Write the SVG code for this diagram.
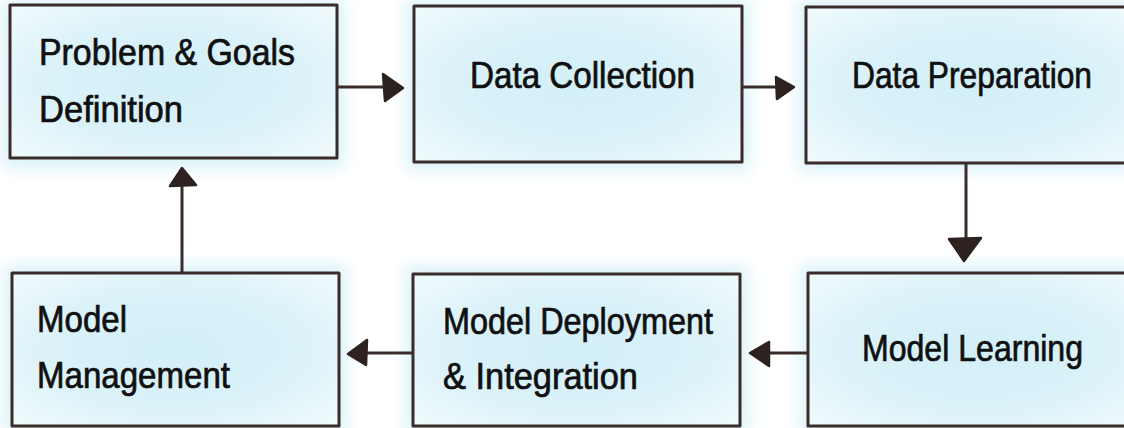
<svg xmlns="http://www.w3.org/2000/svg" width="1124" height="428" viewBox="0 0 1124 428">
  <style>
    .frame { fill: url(#boxFill); stroke: #3a2c2a; stroke-width: 3; stroke-linejoin: round; }
    .halo { fill: #daf2f9; filter: url(#soft); }
    .label { font-family: "Liberation Sans", Arial, sans-serif; font-size: 36px; fill: #101010; stroke: #101010; stroke-width: 0.7; }
    .wire { stroke: #3a2c2a; stroke-width: 3; fill: none; stroke-linecap: round; }
    .head { fill: #2e2220; stroke: #2e2220; stroke-width: 2.5; stroke-linejoin: round; }
  </style>
  <defs>
    <radialGradient id="boxFill" cx="50%" cy="50%" r="65%">
      <stop offset="0" stop-color="#d2eff8"/>
      <stop offset="0.6" stop-color="#dbf2f9"/>
      <stop offset="1" stop-color="#eef9fc"/>
    </radialGradient>
    <filter id="soft" x="-20%" y="-30%" width="140%" height="160%">
      <feGaussianBlur stdDeviation="8"/>
    </filter>
  </defs>

  <rect width="1124" height="428" fill="#ffffff"/>

  <!-- soft glow behind each box -->
  <g id="glow">
    <rect class="halo" x="2" y="0" width="343" height="168"/>
    <rect class="halo" x="406" y="0" width="344" height="170"/>
    <rect class="halo" x="798" y="0" width="340" height="171"/>
    <rect class="halo" x="800" y="265" width="340" height="170"/>
    <rect class="halo" x="405" y="266" width="343" height="168"/>
    <rect class="halo" x="4" y="265" width="343" height="169"/>
  </g>

  <g id="connectors">
    <!-- Problem & Goals -> Data Collection -->
    <line class="wire" x1="337" y1="87" x2="386" y2="87"/>
    <path class="head" d="M383,74 L403,88 L385,101 Z"/>
    <!-- Data Collection -> Data Preparation -->
    <line class="wire" x1="742" y1="87" x2="779" y2="87"/>
    <path class="head" d="M776,77 L794,87 L777,99 Z"/>
    <!-- Data Preparation -> Model Learning -->
    <line class="wire" x1="966" y1="163" x2="966" y2="240"/>
    <path class="head" d="M949,239 L981,238 L964,261 Z"/>
    <!-- Model Learning -> Deployment -->
    <line class="wire" x1="808" y1="353" x2="766" y2="353"/>
    <path class="head" d="M769,342 L750,353 L769,366 Z"/>
    <!-- Deployment -> Management -->
    <line class="wire" x1="413" y1="353" x2="364" y2="353"/>
    <path class="head" d="M367,340 L348,354 L366,365 Z"/>
    <!-- Management -> Problem & Goals -->
    <line class="wire" x1="182" y1="273" x2="182" y2="187"/>
    <path class="head" d="M170,186 L182,168 L196,185 Z"/>
  </g>

  <g id="problem-goals">
    <rect class="frame" x="10" y="5" width="327" height="153"/>
    <text class="label" x="39" y="65" textLength="256" lengthAdjust="spacingAndGlyphs">Problem &amp; Goals</text>
    <text class="label" x="39" y="122" textLength="144" lengthAdjust="spacingAndGlyphs">Definition</text>
  </g>

  <g id="data-collection">
    <rect class="frame" x="414" y="6" width="328" height="156"/>
    <text class="label" x="470" y="88" textLength="225" lengthAdjust="spacingAndGlyphs">Data Collection</text>
  </g>

  <g id="data-preparation">
    <rect class="frame" x="806" y="7" width="340" height="156"/>
    <text class="label" x="852" y="88" textLength="240" lengthAdjust="spacingAndGlyphs">Data Preparation</text>
  </g>

  <g id="model-learning">
    <rect class="frame" x="808" y="273" width="340" height="153"/>
    <text class="label" x="862" y="361" textLength="221" lengthAdjust="spacingAndGlyphs">Model Learning</text>
  </g>

  <g id="model-deployment">
    <rect class="frame" x="413" y="274" width="327" height="152"/>
    <text class="label" x="443" y="334" textLength="270" lengthAdjust="spacingAndGlyphs">Model Deployment</text>
    <text class="label" x="443" y="389" textLength="195" lengthAdjust="spacingAndGlyphs">&amp; Integration</text>
  </g>

  <g id="model-management">
    <rect class="frame" x="12" y="273" width="327" height="153"/>
    <text class="label" x="37" y="332" textLength="90" lengthAdjust="spacingAndGlyphs">Model</text>
    <text class="label" x="37" y="388" textLength="193" lengthAdjust="spacingAndGlyphs">Management</text>
  </g>
</svg>
